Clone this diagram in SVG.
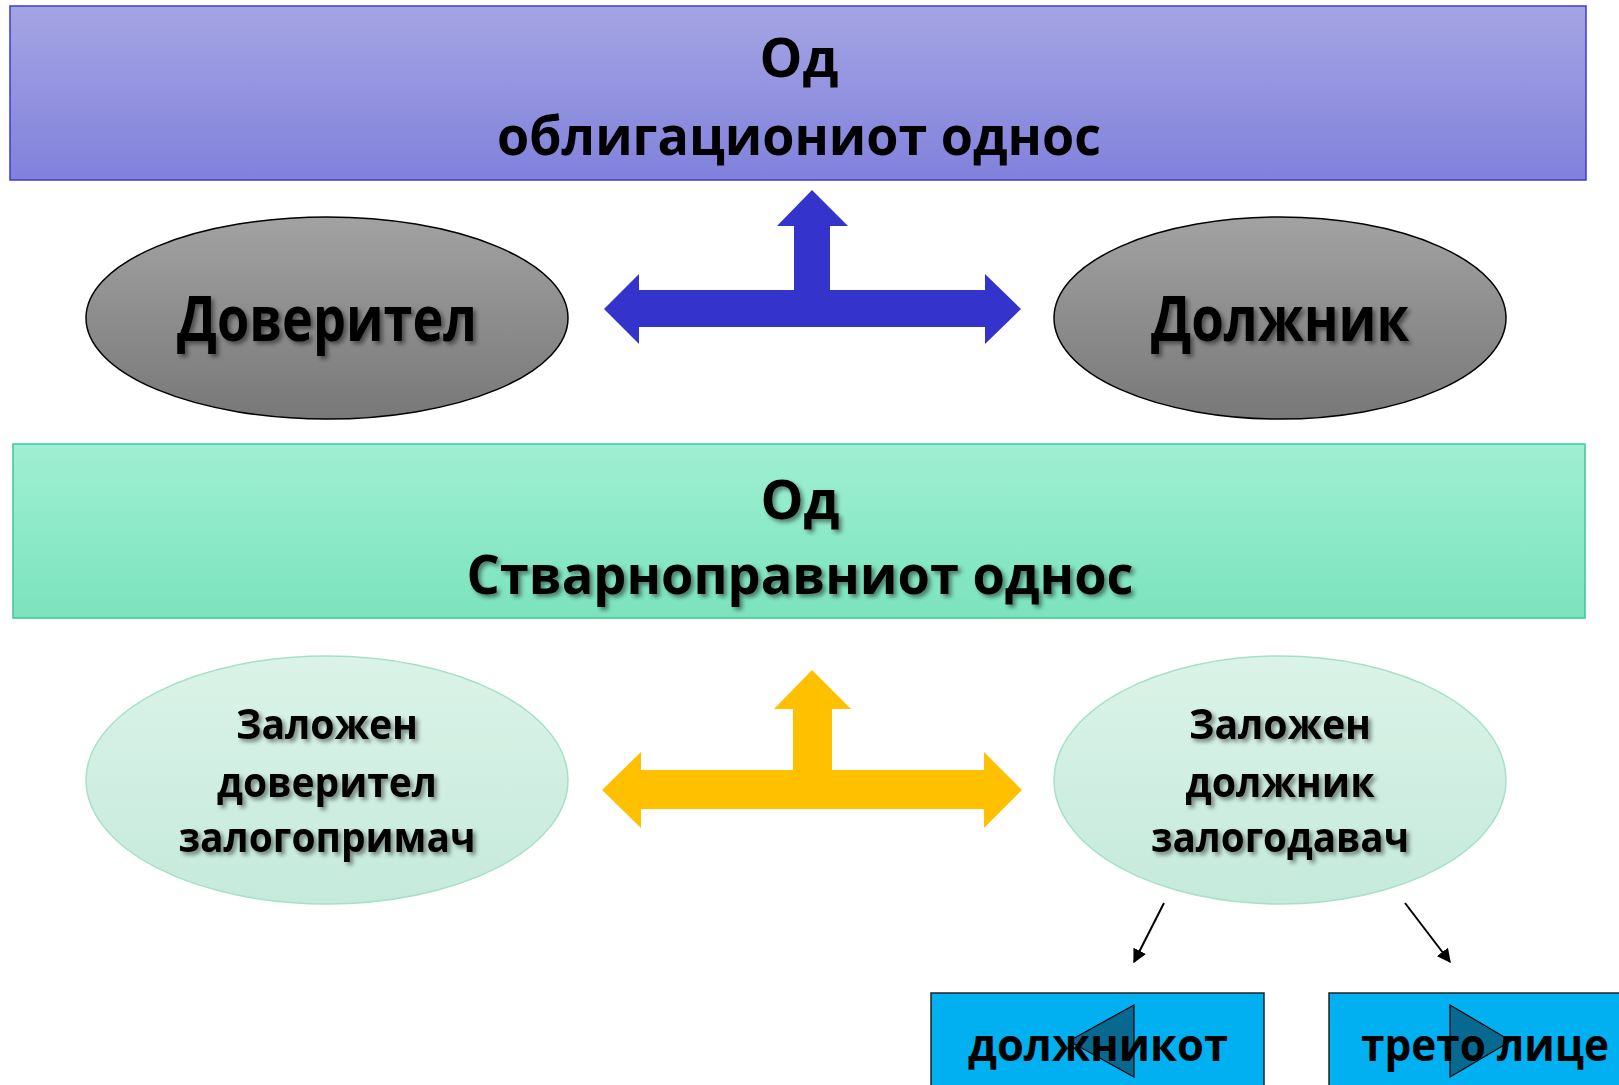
<svg xmlns="http://www.w3.org/2000/svg" width="1619" height="1085" viewBox="0 0 1619 1085">
<defs>
<linearGradient id="gTop" x1="0" y1="0" x2="0" y2="1"><stop offset="0" stop-color="#a4a4e4"/><stop offset="1" stop-color="#8181dc"/></linearGradient>
<linearGradient id="gGreen" x1="0" y1="0" x2="0" y2="1"><stop offset="0" stop-color="#9ff0d2"/><stop offset="1" stop-color="#7be3bd"/></linearGradient>
<linearGradient id="gGray" x1="0" y1="0" x2="0" y2="1"><stop offset="0" stop-color="#a2a2a2"/><stop offset="1" stop-color="#787878"/></linearGradient>
<linearGradient id="gLight" x1="0" y1="0" x2="0" y2="1"><stop offset="0" stop-color="#dbf3e8"/><stop offset="1" stop-color="#c5eadb"/></linearGradient>
<filter id="sh" x="-10%" y="-30%" width="120%" height="160%"><feDropShadow dx="3" dy="3" stdDeviation="2" flood-color="#000" flood-opacity="0.45"/></filter>
<marker id="ah" viewBox="0 0 10 10" refX="9" refY="5" markerWidth="7" markerHeight="7" orient="auto"><path d="M0,0 L10,5 L0,10 z" fill="#000"/></marker>
<style>
text{font-family:"Open Sans","Noto Sans","Liberation Sans",sans-serif;font-weight:bold;fill:#000;text-anchor:middle}
.big{font-size:54px}
.name{font-size:62px}
.mid{font-size:42px}
.sm{font-size:45px}
.s{filter:url(#sh)}
</style>
</defs>

<g id="obligation-box">
<rect x="10" y="6" width="1576" height="174" fill="url(#gTop)" stroke="#3b3bd0" stroke-width="1.5"/>
<text class="big" x="799" y="77">Од</text>
<text class="big" x="799" y="155" textLength="604" lengthAdjust="spacingAndGlyphs">облигациониот однос</text>
</g>

<g id="creditor">
<ellipse cx="327" cy="318" rx="241" ry="101" fill="url(#gGray)" stroke="#000" stroke-width="1.5"/>
<text class="name s" x="327" y="341" textLength="300" lengthAdjust="spacingAndGlyphs">Доверител</text>
</g>

<g id="debtor">
<ellipse cx="1280" cy="318" rx="226" ry="101" fill="url(#gGray)" stroke="#000" stroke-width="1.5"/>
<text class="name s" x="1280" y="341" textLength="258" lengthAdjust="spacingAndGlyphs">Должник</text>
</g>

<g id="real-box">
<rect x="13" y="444" width="1572" height="174" fill="url(#gGreen)" stroke="#3cc896" stroke-width="1.5"/>
<text class="big s" x="800" y="519">Од</text>
<text class="big s" x="800" y="594" textLength="667" lengthAdjust="spacingAndGlyphs">Стварноправниот однос</text>
</g>

<g id="pledgee">
<ellipse cx="327" cy="780" rx="241" ry="124" fill="url(#gLight)" stroke="#a6e0c8" stroke-width="1.5"/>
<text class="mid s" x="327" y="739" textLength="182" lengthAdjust="spacingAndGlyphs">Заложен</text>
<text class="mid s" x="327" y="797" textLength="220" lengthAdjust="spacingAndGlyphs">доверител</text>
<text class="mid s" x="327" y="852" textLength="297" lengthAdjust="spacingAndGlyphs">залогопримач</text>
</g>

<g id="pledgor">
<ellipse cx="1280" cy="780" rx="226" ry="124" fill="url(#gLight)" stroke="#a6e0c8" stroke-width="1.5"/>
<text class="mid s" x="1280" y="739" textLength="182" lengthAdjust="spacingAndGlyphs">Заложен</text>
<text class="mid s" x="1280" y="797" textLength="189" lengthAdjust="spacingAndGlyphs">должник</text>
<text class="mid s" x="1280" y="852" textLength="258" lengthAdjust="spacingAndGlyphs">залогодавач</text>
</g>

<g id="box-debtor">
<rect x="931" y="993" width="333" height="100" fill="#00b0f0" stroke="#222" stroke-width="1.5"/>
<polygon points="1134,1005 1134,1077 1069,1041" fill="#07698f" stroke="#000" stroke-width="1.2"/>
<text class="sm" x="1098" y="1061" textLength="260" lengthAdjust="spacingAndGlyphs">должникот</text>
</g>

<g id="box-third">
<rect x="1329" y="993" width="300" height="100" fill="#00b0f0" stroke="#222" stroke-width="1.5"/>
<polygon points="1450,1005 1450,1077 1511,1041" fill="#07698f" stroke="#000" stroke-width="1.2"/>
<text class="sm" x="1485" y="1061" textLength="248" lengthAdjust="spacingAndGlyphs">трето лице</text>
</g>

<g id="connectors">
<polygon fill="#3434cc" points="604,309 639,274 639,290 794,290 794,226 777,226 812,190 848,226 830,226 830,290 985,290 985,274 1021,309 985,344 985,327 639,327 639,344"/>
<polygon fill="#ffc000" points="602,790 641,752 641,770 793,770 793,709 774,709 812,670 851,709 832,709 832,770 984,770 984,752 1022,790 984,828 984,809 641,809 641,828"/>
<line x1="1164" y1="903" x2="1134" y2="962" stroke="#000" stroke-width="2" marker-end="url(#ah)"/>
<line x1="1405" y1="903" x2="1450" y2="962" stroke="#000" stroke-width="2" marker-end="url(#ah)"/>
</g>
</svg>
